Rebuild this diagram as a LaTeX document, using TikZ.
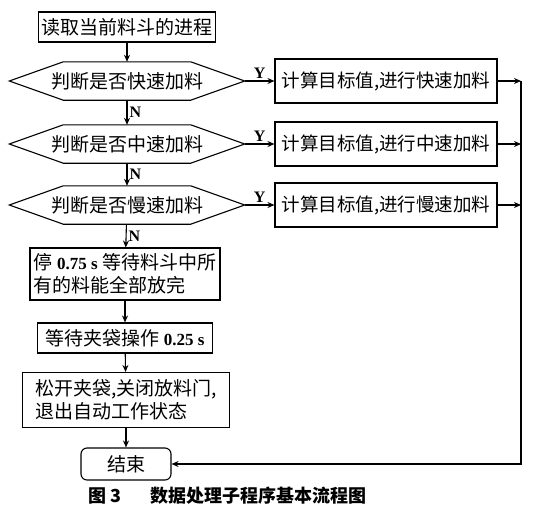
\documentclass[tikz,border=0pt]{standalone}
\usepackage{fontspec}
\setmainfont{Noto Sans CJK SC}
\newfontfamily\latin{Liberation Serif}
\usetikzlibrary{arrows.meta}

\begin{document}
\begin{tikzpicture}[x=1pt,y=-1pt,stepbox/.style={draw,line width=1.1pt,inner sep=3pt,minimum height=30pt,font=\fontsize{19}{23}\selectfont},feedbox/.style={stepbox,inner xsep=1pt,minimum width=222pt,minimum height=44pt,font=\fontsize{18.5}{23}\selectfont},test/.style={inner sep=0pt,minimum width=235pt,minimum height=38pt,font=\fontsize{19}{23}\selectfont},flow/.style={-{Stealth[length=7pt,width=6pt]},line width=1.1pt},yn/.style={font=\latin\bfseries\fontsize{16}{16}\selectfont,inner sep=2pt}]
\useasboundingbox (0,0) rectangle (543,525);
\coordinate (bus) at (521,0);
\node[stepbox,minimum width=177pt] (read) at (127,27) {读取当前料斗的进程};
\node[test] (fast) at (127,81) {判断是否快速加料};
\node[test] (mid) at (127,144) {判断是否中速加料};
\node[test] (slow) at (127,205) {判断是否慢速加料};
% hexagon outlines of the three tests
\foreach \q in {fast,mid,slow}
  \draw[line width=1.1pt] (\q.west) -- ([xshift=54pt]\q.north west) -- ([xshift=-54pt]\q.north east) -- (\q.east) -- ([xshift=-54pt]\q.south east) -- ([xshift=54pt]\q.south west) -- cycle;
\node[feedbox] (fastfeed) at (386,81) {计算目标值,进行快速加料};
\node[feedbox] (midfeed) at (386,144) {计算目标值,进行中速加料};
\node[feedbox] (slowfeed) at (386,205) {计算目标值,进行慢速加料};
\node[stepbox,align=left,minimum width=190pt,minimum height=52pt,inner sep=2pt] (wait) at (125,274) {停 {\latin\bfseries\fontsize{17}{23}\selectfont 0.75 s} 等待料斗中所\\有的料能全部放完};
\node[stepbox,minimum width=175pt] (clamp) at (125,338) {等待夹袋操作 {\latin\bfseries\fontsize{17}{23}\selectfont 0.25 s}};
\node[stepbox,align=left,minimum width=207pt,minimum height=55pt] (release) at (126,400) {松开夹袋,关闭放料门,\\退出自动工作状态};
\node[stepbox,rounded corners=6pt,minimum width=90pt,minimum height=32pt] (stop) at (126,464) {结束};
\node[font=\bfseries\fontsize{18}{20}\selectfont] (fignum) at (105,496) {图 3};
\node[font=\bfseries\fontsize{18}{20}\selectfont] (figtitle) at (258,496) {数据处理子程序基本流程图};
\draw[flow] (read) -- (fast);
\draw[flow] (fast) -- node[yn,right]{N} (mid);
\draw[flow] (mid) -- node[yn,right]{N} (slow);
\draw[flow] (slow) -- node[yn,right]{N} (wait);
\draw[flow] (wait) -- (clamp);
\draw[flow] (clamp) -- (release);
\draw[flow] (release) -- (stop);
\draw[flow] (fast) -- node[yn,above]{Y} (fastfeed);
\draw[flow] (mid) -- node[yn,above]{Y} (midfeed);
\draw[flow] (slow) -- node[yn,above]{Y} (slowfeed);
\draw[flow] (fastfeed) -- (fastfeed -| bus);
\draw[flow] (midfeed) -- (midfeed -| bus);
\draw[flow] (slowfeed) -- (slowfeed -| bus);
\draw[flow] (fastfeed -| bus) -- (stop -| bus) -- (stop);
\end{tikzpicture}
\end{document}
